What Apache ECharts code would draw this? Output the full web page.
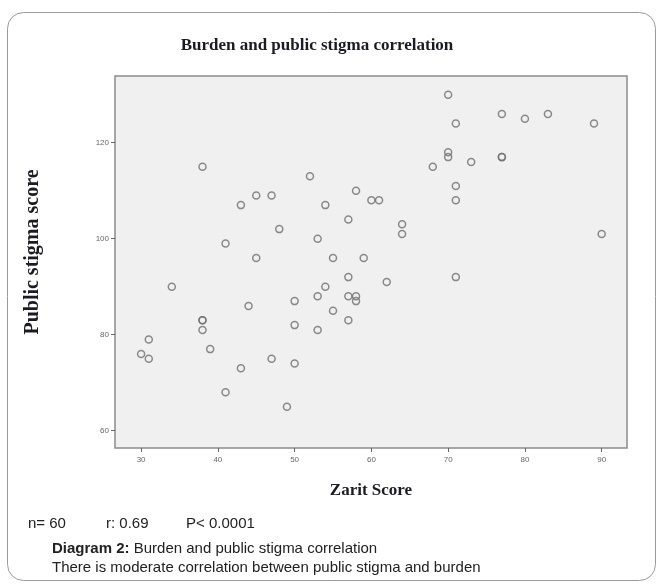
<!DOCTYPE html>
<html>
<head>
<meta charset="utf-8">
<script src="https://cdn.jsdelivr.net/npm/echarts@6/dist/echarts.min.js"></script>
<style>
  html, body { margin: 0; padding: 0; background: #fff; }
  #chart { width: 663px; height: 584px; }
</style>
</head>
<body>
<div id="chart"></div>
<script>
  // Zarit score (x) and public stigma score (y), one entry per case
  const zaritScores = [38, 43, 45, 47, 48, 41, 70, 71, 70, 70, 73, 68, 52, 71, 71, 58, 60, 61, 54, 57,
    64, 64, 53, 77, 80, 83, 89, 77, 77, 90, 45, 34, 44, 38, 38, 38, 31, 30, 31, 39,
    43, 41, 47, 55, 59, 57, 62, 71, 54, 53, 57, 58, 58, 50, 55, 57, 50, 53, 50, 49]
  const stigmaScores = [115, 107, 109, 109, 102, 99, 130, 124, 118, 117, 116, 115, 113, 111, 108, 110, 108, 108, 107, 104,
    103, 101, 100, 126, 125, 126, 124, 117, 117, 101, 96, 90, 86, 83, 83, 81, 79, 76, 75, 77,
    73, 68, 75, 96, 96, 92, 91, 92, 90, 88, 88, 88, 87, 87, 85, 83, 82, 81, 74, 65]
  const xTicks = [30, 40, 50, 60, 70, 80, 90]
  const yTicks = [60, 80, 100, 120]
  const statsLine = ['n= 60', 'r: 0.69', 'P< 0.0001']

  const points = zaritScores.map((x, i) => [x, stigmaScores[i]])

  const chart = echarts.init(document.getElementById('chart'))
  const serif = '"Liberation Serif", "DejaVu Serif", serif'
  const sans = '"Liberation Sans", Arial, sans-serif'
  const ink = '#1b1b24'

  const option = {
    backgroundColor: '#fff',
    animation: false,
    grid: {
      left: 115,
      top: 76,
      right: 36,
      bottom: 136,
      show: true,
      backgroundColor: '#f0f0f0',
      borderColor: '#8c8c8c',
      borderWidth: 1.5
    },
    xAxis: {
      type: 'value',
      min: 26.6,
      max: 93.3,
      name: 'Zarit Score',
      nameLocation: 'middle',
      nameGap: 34,
      nameTextStyle: { fontFamily: serif, fontWeight: 'bold', fontSize: 17, color: ink },
      splitLine: { show: false },
      axisLine: { show: false },
      axisTick: { show: true, length: 4, customValues: xTicks, lineStyle: { color: '#666' } },
      axisLabel: { customValues: xTicks, fontSize: 8, color: '#666', fontFamily: sans, margin: 8 }
    },
    yAxis: {
      type: 'value',
      min: 56.4,
      max: 133.9,
      splitLine: { show: false },
      axisLine: { show: false },
      axisTick: { show: true, length: 4, customValues: yTicks, lineStyle: { color: '#666' } },
      axisLabel: { customValues: yTicks, fontSize: 8, color: '#666', fontFamily: sans, margin: 6 }
    },
    series: [
      {
        type: 'scatter',
        data: points,
        symbol: 'circle',
        symbolSize: 7,
        itemStyle: { color: 'rgba(0,0,0,0)', borderColor: '#6f6f6f', borderWidth: 1.5 }
      }
    ],
    graphic: [
      {
        type: 'rect',
        shape: { x: 7.5, y: 12.5, width: 648, height: 568, r: 16 },
        style: { fill: 'none', stroke: '#9a9a9a', lineWidth: 1 },
        silent: true
      },
      {
        // chart title
        type: 'text', x: 317, y: 46,
        style: {
          text: 'Burden and public stigma correlation', font: 'bold 17px ' + serif, fill: ink,
          textAlign: 'center', textVerticalAlign: 'middle'
        }
      },
      {
        // y axis title, placed a bit above the plot centre as in the original
        type: 'text', x: 33, y: 252, rotation: Math.PI / 2,
        style: {
          text: 'Public stigma score', font: 'bold 20px ' + serif, fill: ink,
          textAlign: 'center', textVerticalAlign: 'middle'
        }
      },
      { type: 'text', left: 28, top: 516, style: { text: statsLine[0], font: '15px ' + sans, fill: '#222' } },
      { type: 'text', left: 106, top: 516, style: { text: statsLine[1], font: '15px ' + sans, fill: '#222' } },
      { type: 'text', left: 186, top: 516, style: { text: statsLine[2], font: '15px ' + sans, fill: '#222' } },
      {
        type: 'text', left: 52, top: 541,
        style: {
          text: '{b|Diagram 2:} Burden and public stigma correlation',
          font: '15px ' + sans, fill: '#222',
          rich: { b: { fontWeight: 'bold', fontSize: 15, fontFamily: sans, fill: '#222' } }
        }
      },
      {
        type: 'text', left: 52, top: 560,
        style: { text: 'There is moderate correlation between public stigma and burden', font: '15px ' + sans, fill: '#222' }
      }
    ]
  }
  chart.setOption(option)
</script>
</body>
</html>
